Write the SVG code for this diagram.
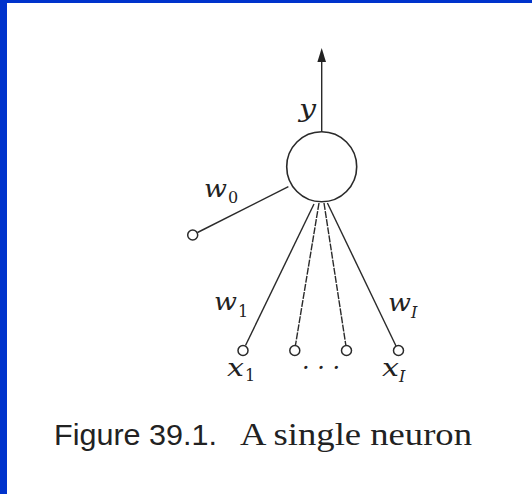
<svg xmlns="http://www.w3.org/2000/svg" width="532" height="494" viewBox="0 0 532 494">
<style>
.ln{stroke:#2a2a2a;stroke-width:1.4;fill:none}
.dl{stroke:#2a2a2a;stroke-width:1.4;fill:none;stroke-dasharray:7 1.2}
.term{fill:#fff;stroke:#2a2a2a;stroke-width:1.5}
.m{font-family:"DejaVu Serif",serif;font-style:italic;font-size:24px;fill:#222}
.s{font-family:"DejaVu Serif",serif;font-size:16px;fill:#222}
.si{font-family:"DejaVu Serif",serif;font-style:italic;font-size:16px;fill:#222}
.cap1{font-family:"Liberation Sans",sans-serif;font-size:29px;fill:#222}
.cap2{font-family:"Liberation Serif",serif;font-size:31px;fill:#222}
</style>
<rect x="0" y="0" width="532" height="494" fill="#fff"/>
<rect x="0" y="0" width="532" height="3" fill="#0033CC"/>
<rect x="0" y="0" width="7" height="494" fill="#0033CC"/>
<g id="connectors">
<line class="ln" x1="321.7" y1="132" x2="321.7" y2="60"/>
<path d="M321.7,48 L326,62 L317.4,62 Z" fill="#222"/>
<line class="ln" x1="288.4" y1="186.7" x2="197.5" y2="232.5"/>
<line class="ln" x1="314" y1="204" x2="245.5" y2="345.5"/>
<line class="dl" x1="319" y1="203" x2="295.5" y2="345"/>
<line class="dl" x1="324" y1="203" x2="345.8" y2="345"/>
<line class="ln" x1="327.4" y1="203" x2="396" y2="346"/>
</g>
<g id="neuron"><circle cx="321.7" cy="166.8" r="35" fill="#fff" stroke="#2a2a2a" stroke-width="1.6"/></g>
<g id="bias"><circle class="term" cx="192.7" cy="235" r="5"/></g>
<g id="input1"><circle class="term" cx="243" cy="350.5" r="5"/></g>
<g id="input2"><circle class="term" cx="294.8" cy="350.5" r="5"/></g>
<g id="input3"><circle class="term" cx="346.5" cy="350.5" r="5"/></g>
<g id="inputI"><circle class="term" cx="398.5" cy="350.5" r="5"/></g>
<g id="labels">
<text class="m" x="299" y="117" textLength="17" lengthAdjust="spacingAndGlyphs">y</text>
<text class="m" x="204" y="197" textLength="23" lengthAdjust="spacingAndGlyphs">w</text><text class="s" x="228" y="203">0</text>
<text class="m" x="214" y="310" textLength="23" lengthAdjust="spacingAndGlyphs">w</text><text class="s" x="238" y="317">1</text>
<text class="m" x="388" y="311" textLength="23" lengthAdjust="spacingAndGlyphs">w</text><text class="si" x="411" y="318">I</text>
<text class="m" x="227" y="376" textLength="17" lengthAdjust="spacingAndGlyphs">x</text><text class="s" x="245" y="381">1</text>
<text class="m" x="382" y="376" textLength="17" lengthAdjust="spacingAndGlyphs">x</text><text class="si" x="399" y="382">I</text>
<text class="m" x="321" y="376" text-anchor="middle" font-style="normal">· · ·</text>
</g>
<g id="caption">
<text class="cap1" x="54" y="445" textLength="163" lengthAdjust="spacingAndGlyphs">Figure 39.1.</text>
<text class="cap2" x="240" y="445" textLength="232" lengthAdjust="spacingAndGlyphs">A single neuron</text>
</g>
</svg>
